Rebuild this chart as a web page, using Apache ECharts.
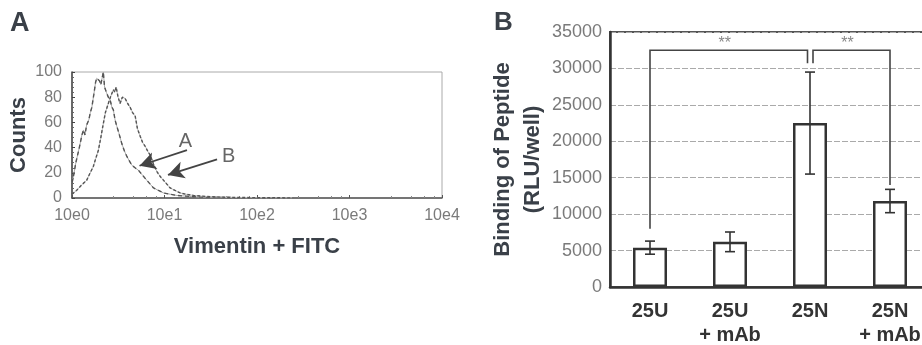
<!DOCTYPE html>
<html><head><meta charset="utf-8">
<script src="https://cdn.jsdelivr.net/npm/echarts@6/dist/echarts.min.js"></script>
<style>html,body{margin:0;padding:0;background:#fff}#c{width:922px;height:345px}</style>
</head><body><div id="c"></div>
<script>
// ---- Panel A: flow cytometry histograms (x = fluorescence, y = counts)
const curveA = [[1.0,12],[1.03,16],[1.1,28],[1.2,40],[1.28,50],[1.33,54],[1.38,50],[1.44,58],[1.52,62],[1.58,68],[1.64,72],[1.72,82],[1.8,92],[1.85,95],[1.92,96],[1.98,93],[2.05,90],[2.1,91],[2.18,100],[2.25,88],[2.35,84],[2.47,80],[2.6,77],[2.7,72],[2.8,70],[2.92,62],[3.05,57],[3.2,52],[3.46,43],[3.7,37],[3.92,33],[4.2,29],[4.44,26],[4.8,24],[5.23,22],[5.8,18],[6.45,14],[7.0,11],[7.61,8],[8.6,6],[9.77,4],[11.5,3],[13.6,2],[17,1.5],[20.5,1],[28,0.7],[40,0.5],[60,0.3],[100,0.2],[200,0.1]];
const curveB = [[1.0,3],[1.03,4],[1.12,6],[1.22,9],[1.3,11],[1.44,14],[1.55,19],[1.7,25],[1.8,31],[1.93,38],[2.05,48],[2.18,59],[2.3,68],[2.47,75],[2.6,80],[2.8,86],[2.9,84],[3.0,88],[3.15,80],[3.31,75],[3.5,80],[3.75,79],[4.0,75],[4.25,72],[4.5,68],[4.82,65],[5.1,55],[5.46,49],[5.8,44],[6.19,41],[6.6,37],[7.01,34],[7.6,27],[8.28,21],[9.0,17],[9.77,14],[10.6,11],[11.5,8],[13,6],[14.8,4],[17,3],[20.6,2],[25,1.5],[31.3,1],[45,0.6],[66,0.4],[120,0.2],[250,0.1]];
const xTicksA = [1, 10, 100, 1000, 10000];
const arrowA = {from:[17.5,38], to:[5.37,25.6], label:[16.8,44.7], text:'A'};
const arrowB = {from:[37,30.7], to:[10.9,18.3], label:[49.5,32.8], text:'B'};

// ---- Panel B: peptide binding bars
const categories = ['25U', '25U\n+ mAb', '25N', '25N\n+ mAb'];
const binding = [5400, 6200, 22500, 11800];
const bindingErr = [900, 1350, 7000, 1600];
const yTicksB = [0, 5000, 10000, 15000, 20000, 25000, 30000, 35000];
const bracketFrom = [0, 2];
const bracketTo = [2, 3];
const bracketTop = [32500, 32500];
const bracketFromEnd = [8000, 30700];
const bracketToEnd = [30700, 14000];
const bracketText = ['**', '**'];

const FONT = 'Liberation Sans, Arial, sans-serif';
const DARK = '#3a4048';
const GRAY = '#7a7a7a';

const chart = echarts.init(document.getElementById('c'));

function arrowMark(a){
  return [{coord:a.from},{coord:a.to}];
}

const option = {
  animation: false,
  backgroundColor: '#fff',
  textStyle: {fontFamily: FONT},
  graphic: [
    {type:'text', left: 10, top: 10, style:{text:'A', font:'bold 27px '+FONT, fill:DARK}},
    {type:'text', left: 494, top: 10, style:{text:'B', font:'bold 26px '+FONT, fill:DARK}}
  ],
  grid: [
    {left: 72, top: 72, width: 370, height: 126, show: true, borderColor: '#aaa', borderWidth: 1,
      outerBoundsMode: 'none', containLabel: false},
    {left: 610, top: 32, width: 320, height: 255, show: true, borderColor: '#555', borderWidth: 2,
      outerBoundsMode: 'none', containLabel: false}
  ],
  xAxis: [
    {
      gridIndex: 0, type: 'log', logBase: 10, min: xTicksA[0], max: xTicksA[xTicksA.length-1],
      axisLine: {show: true, lineStyle: {color: '#555', width: 1.5}},
      axisTick: {show: true, length: 3, inside: true, lineStyle:{color:'#555'}},
      minorTick: {show: true, splitNumber: 5, length: 2, lineStyle:{color:'#888'}},
      splitLine: {show: false},
      axisLabel: {color: GRAY, fontSize: 16, margin: 10, fontFamily: FONT,
        formatter: v => '10e' + Math.round(Math.log10(v))},
      name: 'Vimentin + FITC', nameLocation: 'middle', nameGap: 38,
      nameTextStyle: {fontSize: 22, fontWeight: 'bold', color: DARK, fontFamily: FONT}
    },
    {
      gridIndex: 1, type: 'category', data: categories,
      axisLine: {show: true, lineStyle: {color: '#333', width: 2.5}},
      axisTick: {show: false},
      axisLabel: {color: '#333', fontSize: 20, fontWeight: 'bold', margin: 12, lineHeight: 24,
        interval: 0, fontFamily: FONT},
      splitLine: {show: false}
    }
  ],
  yAxis: [
    {
      gridIndex: 0, type: 'value', min: 0, max: 100, interval: 20,
      axisLine: {show: true, lineStyle: {color: '#444', width: 1.5}},
      axisTick: {show: true, inside: true, length: 3, lineStyle:{color:'#444'}},
      minorTick: {show: true, splitNumber: 5, length: 2, lineStyle:{color:'#666'}},
      splitLine: {show: false},
      axisLabel: {color: GRAY, fontSize: 16, margin: 10, fontFamily: FONT},
      name: 'Counts', nameLocation: 'middle', nameGap: 42,
      nameTextStyle: {fontSize: 22, fontWeight: 'bold', color: DARK, fontFamily: FONT}
    },
    {
      gridIndex: 1, type: 'value', min: yTicksB[0], max: yTicksB[yTicksB.length-1], interval: 5000,
      axisLine: {show: true, lineStyle: {color: '#333', width: 2.5}},
      axisTick: {show: false},
      splitLine: {show: true, lineStyle: {color: '#aaa', width: 1, type: [6,2]}},
      axisLabel: {color: GRAY, fontSize: 18, margin: 8, fontFamily: FONT, formatter: v => String(v)},
      name: 'Binding of Peptide\n(RLU/well)', nameLocation: 'middle', nameGap: 52,
      nameTextStyle: {fontSize: 22, fontWeight: 'bold', color: DARK, lineHeight: 30, fontFamily: FONT}
    }
  ],
  series: [
    {type:'line', xAxisIndex:0, yAxisIndex:0, data: curveA, showSymbol:false, silent:true,
      lineStyle:{color:'#aaa', width:1}},
    {type:'line', xAxisIndex:0, yAxisIndex:0, data: curveA, showSymbol:false, silent:true,
      lineStyle:{color:'#555', width:1.4, type:[4,3]}},
    {type:'line', xAxisIndex:0, yAxisIndex:0, data: curveB, showSymbol:false, silent:true,
      lineStyle:{color:'#bbb', width:1}},
    {type:'line', xAxisIndex:0, yAxisIndex:0, data: curveB, showSymbol:false, silent:true,
      lineStyle:{color:'#555', width:1.4, type:[3,2]},
      markLine: {
        silent: true, symbol: ['none','arrow'], symbolSize: [13, 16], animation:false,
        lineStyle: {color:'#444', width:1.8, type:'solid'},
        label: {show:false},
        data: [arrowMark(arrowA), arrowMark(arrowB)]
      },
      markPoint: {
        silent: true, symbol: 'circle', symbolSize: 1, itemStyle:{color:'rgba(0,0,0,0)'},
        label: {show:true, position:'inside', color:'#666', fontSize:20, fontFamily:FONT, formatter: p => p.name},
        data: [{name: arrowA.text, coord: arrowA.label}, {name: arrowB.text, coord: arrowB.label}]
      }
    },
    {type:'bar', xAxisIndex:1, yAxisIndex:1, data: binding, barWidth: 34, silent:true,
      itemStyle:{color:'#fff', borderColor:'#333', borderWidth:2.5}},
    {type:'custom', xAxisIndex:1, yAxisIndex:1, silent:true, z: 5,
      data: binding.map((v,i)=>[i, v-bindingErr[i], v+bindingErr[i]]),
      renderItem: function(params, api){
        const lo = api.coord([api.value(0), api.value(1)]);
        const hi = api.coord([api.value(0), api.value(2)]);
        const w = 5;
        const st = {stroke:'#333', lineWidth:1.6};
        return {type:'group', children:[
          {type:'line', shape:{x1:lo[0], y1:lo[1], x2:hi[0], y2:hi[1]}, style:st},
          {type:'line', shape:{x1:lo[0]-w, y1:lo[1], x2:lo[0]+w, y2:lo[1]}, style:st},
          {type:'line', shape:{x1:hi[0]-w, y1:hi[1], x2:hi[0]+w, y2:hi[1]}, style:st}
        ]};
      }
    },
    {type:'custom', xAxisIndex:1, yAxisIndex:1, silent:true, z: 6,
      data: bracketFrom.map((f,i)=>[f, bracketTo[i], bracketTop[i], bracketFromEnd[i], bracketToEnd[i], i]),
      renderItem: function(params, api){
        const f = api.value(0), t = api.value(1);
        const fo = (f === 2) ? 3 : 0;   // small gap around the shared 25N post
        const to = (t === 2) ? -2.5 : 0;
        const a = api.coord([f, api.value(2)]);
        const b = api.coord([t, api.value(2)]);
        const a0 = api.coord([f, api.value(3)]);
        const b0 = api.coord([t, api.value(4)]);
        const xa = a[0] + fo, xb = b[0] + to;
        const st = {stroke:'#444', lineWidth:1.6, fill:null};
        return {type:'group', children:[
          {type:'polyline', shape:{points:[[xa, a0[1]],[xa, a[1]],[xb, b[1]],[xb, b0[1]]]}, style:st},
          {type:'text', style:{text: bracketText[api.value(5)], x:(xa+xb)/2 - 4, y:a[1]-7,
            align:'center', verticalAlign:'middle', font:'16px '+FONT, fill:'#888'}}
        ]};
      }
    }
  ]
};
chart.setOption(option);
</script></body></html>
